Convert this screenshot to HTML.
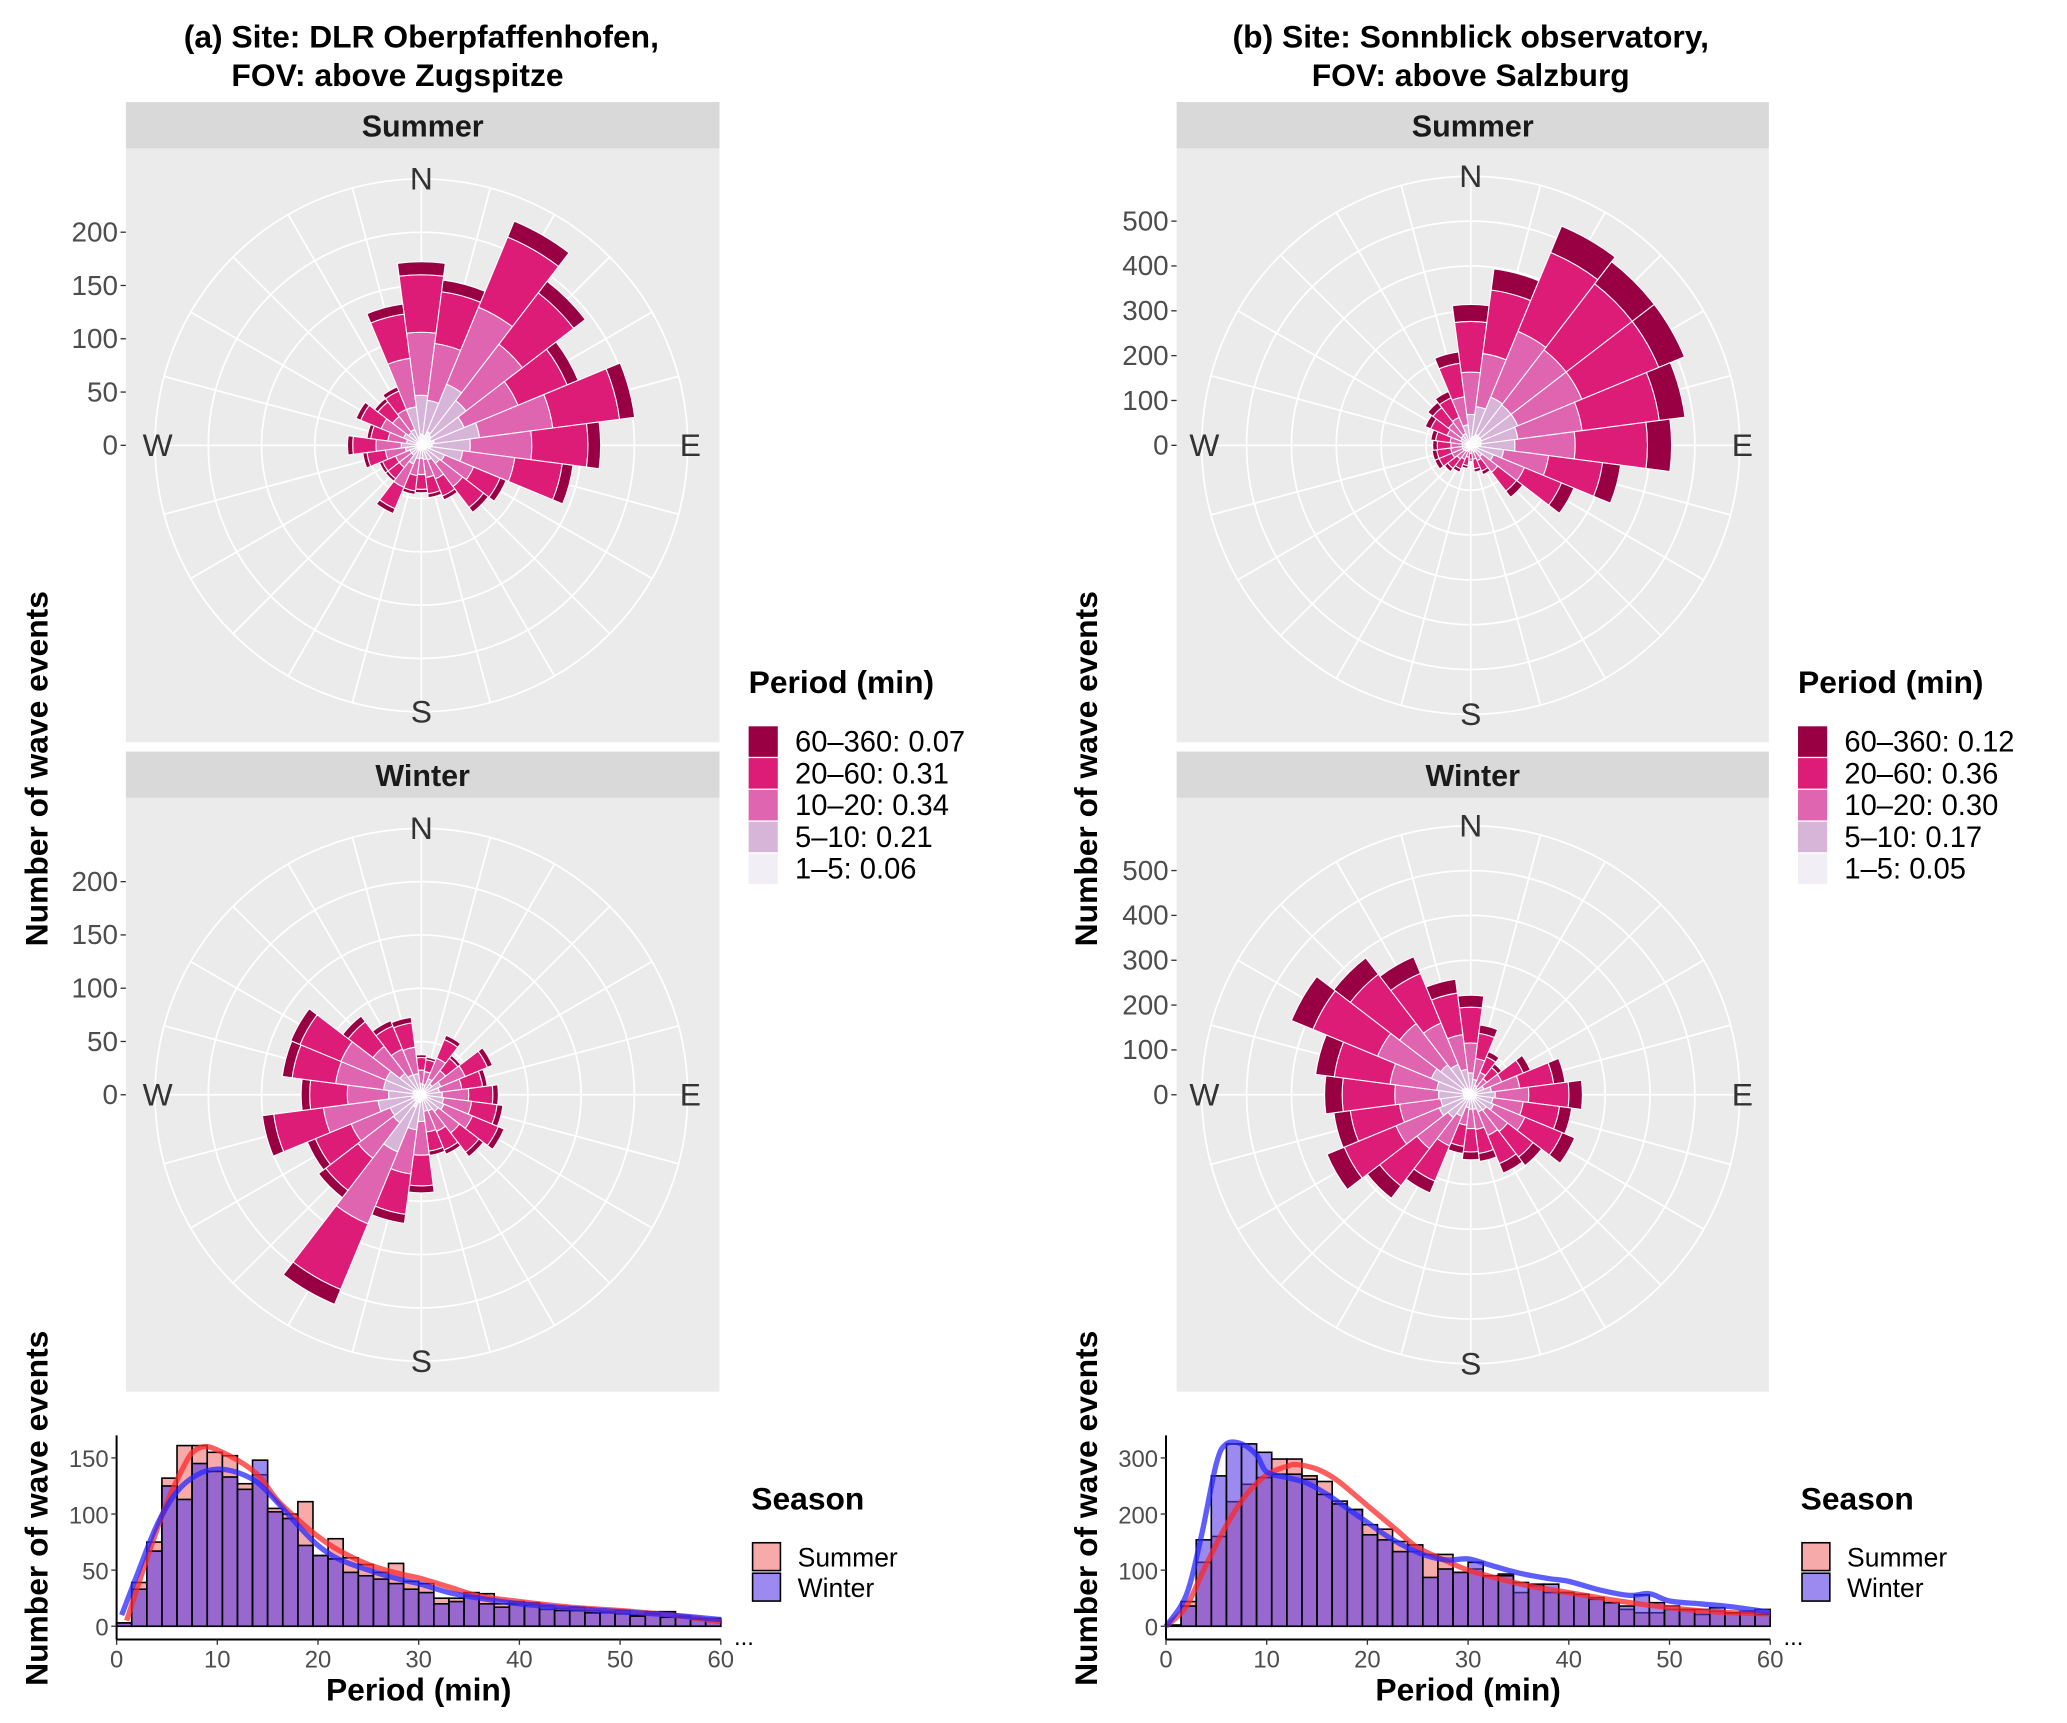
<!DOCTYPE html>
<html><head><meta charset="utf-8">
<style>
html,body{margin:0;padding:0;background:#fff;}
svg{display:block;font-family:"Liberation Sans",sans-serif;}
</style></head>
<body>
<svg id="fig" width="2067" height="1723" viewBox="0 0 1560 1300" preserveAspectRatio="none" xmlns="http://www.w3.org/2000/svg">
<rect x="0" y="0" width="1560" height="1300" fill="#fff"/>
<text x="318" y="36" font-size="24" font-weight="bold" text-anchor="middle">(a) Site: DLR Oberpfaffenhofen,</text>
<text x="300" y="65" font-size="24" font-weight="bold" text-anchor="middle">FOV: above Zugspitze</text>
<text x="1110" y="36" font-size="24" font-weight="bold" text-anchor="middle">(b) Site: Sonnblick  observatory,</text>
<text x="1110" y="65" font-size="24" font-weight="bold" text-anchor="middle">FOV: above Salzburg</text>
<g id="content"></g>
</svg>
<script>
// ---------------- Data ----------------
const directions = [0,15,30,45,60,75,90,105,120,135,150,165,180,195,210,225,240,255,270,285,300,315,330,345];
const classLabels = ["1\u20135","5\u201310","10\u201320","20\u201360","60\u2013360"];
const classColors = ["#f1eef6","#d7b5d8","#df65b0","#dd1c77","#980043"];
const fracA = [0.06,0.21,0.34,0.31,0.07];
const fracB = [0.05,0.17,0.30,0.36,0.12];
const summerA = [174,158,230,196,161,204,170,145,87,80,56,50,45,47,70,43,43,56,70,52,67,56,60,135];
const winterA = [38,36,61,47,73,63,73,78,85,74,61,58,93,123,215,123,117,152,114,133,134,94,76,74];
const summerB = [314,397,529,516,516,482,448,337,249,146,71,60,35,52,65,74,87,87,85,90,110,121,130,210];
const winterB = [222,157,104,87,144,212,249,227,251,199,189,150,145,132,237,291,347,308,326,349,433,385,333,260];
const ticksA = [0,50,100,150,200];
const ticksB = [0,100,200,300,400,500];

const histSummerA = [3,39,75,132,161,161,155,152,127,135,105,100,111,63,78,61,55,48,56,40,38,25,25,27,29,20,22,21,15,16,17,14,12,11,10,13,13,8,6,5];
const histWinterA = [3,33,67,125,113,145,138,133,122,148,102,96,72,63,60,48,45,42,38,33,30,20,22,30,20,17,20,19,18,14,14,12,13,14,9,11,8,9,7,7];
const histSummerB = [2,44,114,160,222,253,265,298,298,268,258,223,208,181,173,151,133,128,128,96,102,90,93,60,72,60,60,57,48,42,30,24,24,30,30,21,27,24,24,30];
const histWinterB = [2,36,154,268,325,325,310,271,271,262,235,218,208,163,154,133,145,87,102,96,114,90,90,78,75,75,60,57,51,42,36,56,42,36,30,30,33,24,27,21];
const curveX_SA = [1,3,5,7,8,9,10,12,14,16,18,20,22,25,28,30,33,36,40,45,50,55,60];
const curveY_SA = [5,60,110,148,158,160,157,148,135,112,95,80,68,55,47,43,35,27,22,17,14,10,4];
const curveX_WA = [0.5,2,4,6,8,10,12,14,16,18,20,22,25,28,30,33,36,40,45,50,55,60];
const curveY_WA = [10,45,90,120,135,140,137,128,110,90,72,60,50,42,38,30,25,20,16,13,10,6];
const curveX_SB = [0,2,4,6,8,10,12,13,15,17,20,23,25,28,30,33,36,40,45,50,55,60];
const curveY_SB = [0,35,110,180,235,270,285,288,280,260,215,170,140,115,100,85,72,60,45,33,25,22];
const curveX_WB = [0,2,3.5,5,6,7.5,9,10,12,14,16,18,20,22,24,26,28,30,32,35,38,40,43,46,48,50,53,56,60];
const curveY_WB = [0,55,160,290,325,325,305,275,265,255,235,210,185,160,140,125,118,120,110,95,85,80,65,55,58,45,40,35,25];
const histTicksA = [0,50,100,150];
const histTicksB = [0,100,200,300];
const xTicks = [0,10,20,30,40,50,60];

// ---------------- Helpers ----------------
const NS = "http://www.w3.org/2000/svg";
const root = document.getElementById("content");
function mk(tag, attrs, parent){
  const e = document.createElementNS(NS, tag);
  for (const k in attrs) e.setAttribute(k, attrs[k]);
  (parent||root).appendChild(e);
  return e;
}
function pt(cx,cy,r,deg){const a=deg*Math.PI/180;return [cx+r*Math.sin(a), cy-r*Math.cos(a)];}
function sector(cx,cy,r0,r1,a0,a1){
  const p1=pt(cx,cy,r1,a0),p2=pt(cx,cy,r1,a1),p3=pt(cx,cy,r0,a1),p4=pt(cx,cy,r0,a0);
  let d=`M${p1[0]},${p1[1]} A${r1},${r1} 0 0 1 ${p2[0]},${p2[1]} L${p3[0]},${p3[1]}`;
  if(r0>0) d+=` A${r0},${r0} 0 0 0 ${p4[0]},${p4[1]}`;
  return d+"Z";
}

function rose(opts){
  const {px,py,w,h,strip,cx,cy,scale,rmax,ringStep,ticks,totals,frac,key,tickX} = opts;
  const g = mk("g",{});
  
  
  const st = mk("rect",{x:px,y:py-35,width:w,height:35,fill:"#d9d9d9"},g);
  
  
  const stt = mk("text",{x:px+w/2,y:py-9,"font-size":23,"font-weight":"bold","text-anchor":"middle",fill:"#1a1a1a"},g);
  stt.textContent = strip;
  
  
  const bg = mk("rect",{x:px,y:py,width:w,height:h,fill:"#ebebeb"},g);
  
  
  for(let v=ringStep; v<=rmax+0.1; v+=ringStep){
    const c = mk("circle",{cx:cx,cy:cy,r:v*scale,fill:"none",stroke:"#fff","stroke-width":1.3},g);
    
    
  }
  directions.forEach(d=>{
    const p = pt(cx,cy,rmax*scale,d);
    const l = mk("line",{x1:cx,y1:cy,x2:p[0],y2:p[1],stroke:"#fff","stroke-width":1.3},g);
    
    
  });
  directions.forEach((d,i)=>{
    let acc=0;
    frac.forEach((f,k)=>{
      const v0=acc, v1=acc+totals[i]*f; acc=v1;
      const s = mk("path",{d:sector(cx,cy,v0*scale,v1*scale,d-7.5,d+7.5),fill:classColors[k],stroke:"#fff","stroke-width":0.8},g);
      
      
    });
  });
  const R = rmax*scale;
  [["N",cx,cy-R+8,"middle"],["E",cx+R+2,cy+8,"middle"],["S",cx,cy+R+8,"middle"],["W",cx-R+2,cy+8,"middle"]].forEach(a=>{
    const t = mk("text",{x:a[1],y:a[2],"font-size":24,"text-anchor":a[3],fill:"#333"},g);
    t.textContent=a[0];
    
    
  });
  ticks.forEach(v=>{
    const y = cy - v*scale;
    const t = mk("text",{x:tickX-6,y:y+7,"font-size":21,"text-anchor":"end",fill:"#4d4d4d"},g);
    t.textContent=v;
    
    
    mk("line",{x1:tickX-4,y1:y,x2:tickX,y2:y,stroke:"#333","stroke-width":1},g);
  });
}

function legendPeriod(x,y,fr,key){
  const g = mk("g",{});
  
  
  const t = mk("text",{x:x,y:y,"font-size":24,"font-weight":"bold"},g);
  t.textContent="Period (min)";
  
  
  for(let k=4;k>=0;k--){
    const row = 4-k;
    const yy = y+25+row*24;
    const r = mk("rect",{x:x,y:yy,width:22,height:23,fill:classColors[k]},g);
    
    
    const tt = mk("text",{x:x+35,y:yy+19,"font-size":22},g);
    tt.textContent = classLabels[k]+": "+fr[k].toFixed(2);
    
    
  }
}

function smoothPath(xs,ys){
  const p = xs.map((x,i)=>[x,ys[i]]);
  let d=`M${p[0][0]},${p[0][1]}`;
  for(let i=0;i<p.length-1;i++){
    const p0=p[Math.max(0,i-1)],p1=p[i],p2=p[i+1],p3=p[Math.min(p.length-1,i+2)];
    const c1=[p1[0]+(p2[0]-p0[0])/6,p1[1]+(p2[1]-p0[1])/6];
    const c2=[p2[0]-(p3[0]-p1[0])/6,p2[1]-(p3[1]-p1[1])/6];
    d+=` C${c1[0]},${c1[1]} ${c2[0]},${c2[1]} ${p2[0]},${p2[1]}`;
  }
  return d;
}

const SUMMER_FILL = "rgba(240,85,85,0.5)";
const WINTER_FILL = "rgba(90,60,230,0.6)";

function hist(opts){
  const {x0,x1,y0,yTop,scale,sv,wv,ticks,csx,csy,cwx,cwy,key} = opts;
  const g = mk("g",{});
  
  
  const X = v => x0 + (x1-x0)*v/60;
  const Y = v => y0 - v*scale;
  const bw = 1.5;
  sv.forEach((v,i)=>{
    const r = mk("rect",{x:X(i*bw),y:Y(v),width:X(bw)-X(0),height:v*scale,fill:SUMMER_FILL,stroke:"#000","stroke-width":1.2},g);
    
    
  });
  wv.forEach((v,i)=>{
    const r = mk("rect",{x:X(i*bw),y:Y(v),width:X(bw)-X(0),height:v*scale,fill:WINTER_FILL,stroke:"#000","stroke-width":1.2},g);
    
    
  });
  const cs = mk("path",{d:smoothPath(csx.map(X),csy.map(Y)),fill:"none",stroke:"rgba(255,40,40,0.75)","stroke-width":4},g);
  
  
  const cw = mk("path",{d:smoothPath(cwx.map(X),cwy.map(Y)),fill:"none",stroke:"rgba(40,40,255,0.75)","stroke-width":4},g);
  
  
  mk("line",{x1:x0,y1:yTop,x2:x0,y2:y0+10,stroke:"#000","stroke-width":1.5},g);
  mk("line",{x1:x0,y1:y0+10,x2:x1,y2:y0+10,stroke:"#000","stroke-width":1.5},g);
  ticks.forEach(v=>{
    mk("line",{x1:x0-4,y1:Y(v),x2:x0,y2:Y(v),stroke:"#333"},g);
    const t = mk("text",{x:x0-6,y:Y(v)+7,"font-size":18,"text-anchor":"end",fill:"#4d4d4d"},g);
    t.textContent=v;
    
    
  });
  xTicks.forEach(v=>{
    mk("line",{x1:X(v),y1:y0+10,x2:X(v),y2:y0+14,stroke:"#333"},g);
    const t = mk("text",{x:X(v),y:y0+31,"font-size":18,"text-anchor":"middle",fill:"#4d4d4d"},g);
    t.textContent=v;
    
    
  });
  const dots = mk("text",{x:x1+10,y:y0+14,"font-size":18,fill:"#000"},g);
  dots.textContent="...";
  const at = mk("text",{x:(x0+x1)/2,y:y0+56,"font-size":24,"font-weight":"bold","text-anchor":"middle"},g);
  at.textContent="Period (min)";
  
  
}

function legendSeason(x,y,key){
  const g = mk("g",{});
  
  
  const t = mk("text",{x:x,y:y,"font-size":24,"font-weight":"bold"},g);
  t.textContent="Season";
  
  
  [["Summer",SUMMER_FILL],["Winter",WINTER_FILL]].forEach((s,i)=>{
    const r = mk("rect",{x:x+1,y:y+25+i*23,width:21,height:21,fill:s[1],stroke:"#000","stroke-width":1.2},g);
    
    
    const tt = mk("text",{x:x+35,y:y+43+i*23,"font-size":20},g);
    tt.textContent=s[0];
    
    
  });
}

function ytitle(x,cy,key){
  const t = mk("text",{x:x,y:cy,"font-size":24,"font-weight":"bold","text-anchor":"middle",transform:`rotate(-90 ${x} ${cy})`});
  t.textContent="Number of wave events";
  
  
}

// ---------------- Build ----------------
const sA = 201/250, sB = 203/600;
rose({px:95,py:112,w:448,h:448,strip:"Summer",cx:318,cy:336,scale:sA,rmax:250,ringStep:50,ticks:ticksA,totals:summerA,frac:fracA,key:"a-summer",tickX:95});
rose({px:95,py:602,w:448,h:448,strip:"Winter",cx:318,cy:826,scale:sA,rmax:250,ringStep:50,ticks:ticksA,totals:winterA,frac:fracA,key:"a-winter",tickX:95});
rose({px:888,py:112,w:447,h:448,strip:"Summer",cx:1110,cy:336,scale:sB,rmax:600,ringStep:100,ticks:ticksB,totals:summerB,frac:fracB,key:"b-summer",tickX:888});
rose({px:888,py:602,w:447,h:448,strip:"Winter",cx:1110,cy:826,scale:sB,rmax:600,ringStep:100,ticks:ticksB,totals:winterB,frac:fracB,key:"b-winter",tickX:888});
legendPeriod(565,523,fracA,"a");
legendPeriod(1357,523,fracB,"b");
ytitle(36,580,"rose-y-axis-title-a");
ytitle(828,580,"rose-y-axis-title-b");
hist({x0:88,x1:544,y0:1227,yTop:1083,scale:127/150,sv:histSummerA,wv:histWinterA,ticks:histTicksA,csx:curveX_SA,csy:curveY_SA,cwx:curveX_WA,cwy:curveY_WA,key:"a"});
hist({x0:880,x1:1336,y0:1227,yTop:1083,scale:127/300,sv:histSummerB,wv:histWinterB,ticks:histTicksB,csx:curveX_SB,csy:curveY_SB,cwx:curveX_WB,cwy:curveY_WB,key:"b"});
legendSeason(567,1139,"a");
legendSeason(1359,1139,"b");
ytitle(36,1138,"hist-y-axis-title-a");
ytitle(828,1138,"hist-y-axis-title-b");
</script>
</body></html>
